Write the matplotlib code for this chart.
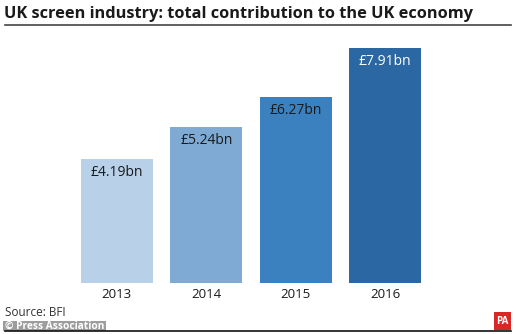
import matplotlib
matplotlib.use("Agg")
import matplotlib.pyplot as plt
from matplotlib.patches import Rectangle
from matplotlib.lines import Line2D

years = ["2013", "2014", "2015", "2016"]
values = [4.19, 5.24, 6.27, 7.91]
labels = ["£4.19bn", "£5.24bn", "£6.27bn", "£7.91bn"]
colors = ["#b8d1e8", "#7eaad3", "#3b80bf", "#2b68a3"]
label_colors = ["#1a1a1a", "#1a1a1a", "#1a1a1a", "#ffffff"]

W, H = 516, 334
fig = plt.figure(figsize=(W / 100, H / 100), dpi=100)
fig.patch.set_facecolor("white")
FONT = "Open Sans"

def px(x, y):
    return x / W, 1 - y / H

# axes: x 72..430 px, y base 283, top at 8bn
scale = 29.7
top_px = 283 - 8 * scale
ax = fig.add_axes([72 / W, (H - 283) / H, (430 - 72) / W, (283 - top_px) / H])
x = list(range(len(years)))
bars = ax.bar(x, values, width=0.805, color=colors, edgecolor="none")
ax.set_xlim(-0.5, 3.5)
ax.set_ylim(0, 8)
ax.axis("off")
for xi, v, lab, lc in zip(x, values, labels, label_colors):
    ax.annotate(lab, (xi, v), xytext=(0, -13.5), textcoords="offset pixels",
                ha="center", va="center", fontsize=10, color=lc, family=FONT)
    ax.annotate(years[xi], (xi, 0), xytext=(0, -12), textcoords="offset pixels",
                ha="center", va="center", fontsize=9.5, color="#1a1a1a", family=FONT)

# title
tx, ty = px(4, 14)
fig.text(tx, ty, "UK screen industry: total contribution to the UK economy",
         ha="left", va="center", fontsize=11.8, fontweight="bold", color="#1a1a1a", family=FONT)
x0, y0 = px(5, 24.5)
x1, _ = px(511, 24.5)
fig.add_artist(Line2D([x0, x1], [y0, y0], color="#444444", lw=1.2))

# source
sx, sy = px(5, 312)
fig.text(sx, sy, "Source: BFI", ha="left", va="center", fontsize=8.5, color="#333333", family=FONT)

# bottom rule
bx0, by0 = px(5, 331)
bx1, _ = px(511, 331)
fig.add_artist(Line2D([bx0, bx1], [by0, by0], color="#111111", lw=1.2))

# watermark box
wx, wy = px(3, 331)
fig.add_artist(Rectangle((wx, wy), 103 / W, 10 / H, transform=fig.transFigure,
                         facecolor="#8c8c8c", alpha=0.85, edgecolor="none"))
cx, cy = px(5, 326)
fig.text(cx, cy, "© Press Association", ha="left", va="center", fontsize=7.3,
         fontweight="bold", color="white", family=FONT)

# PA logo
lx, ly = px(494, 330)
fig.add_artist(Rectangle((lx, ly), 17 / W, 18 / H, transform=fig.transFigure,
                         facecolor="#d42a26", edgecolor="none"))
lcx, lcy = px(502.5, 321)
fig.text(lcx, lcy, "PA", ha="center", va="center", fontsize=7, fontweight="bold",
         color="white", family=FONT)

fig.savefig("out.png", dpi=100, facecolor="white")
